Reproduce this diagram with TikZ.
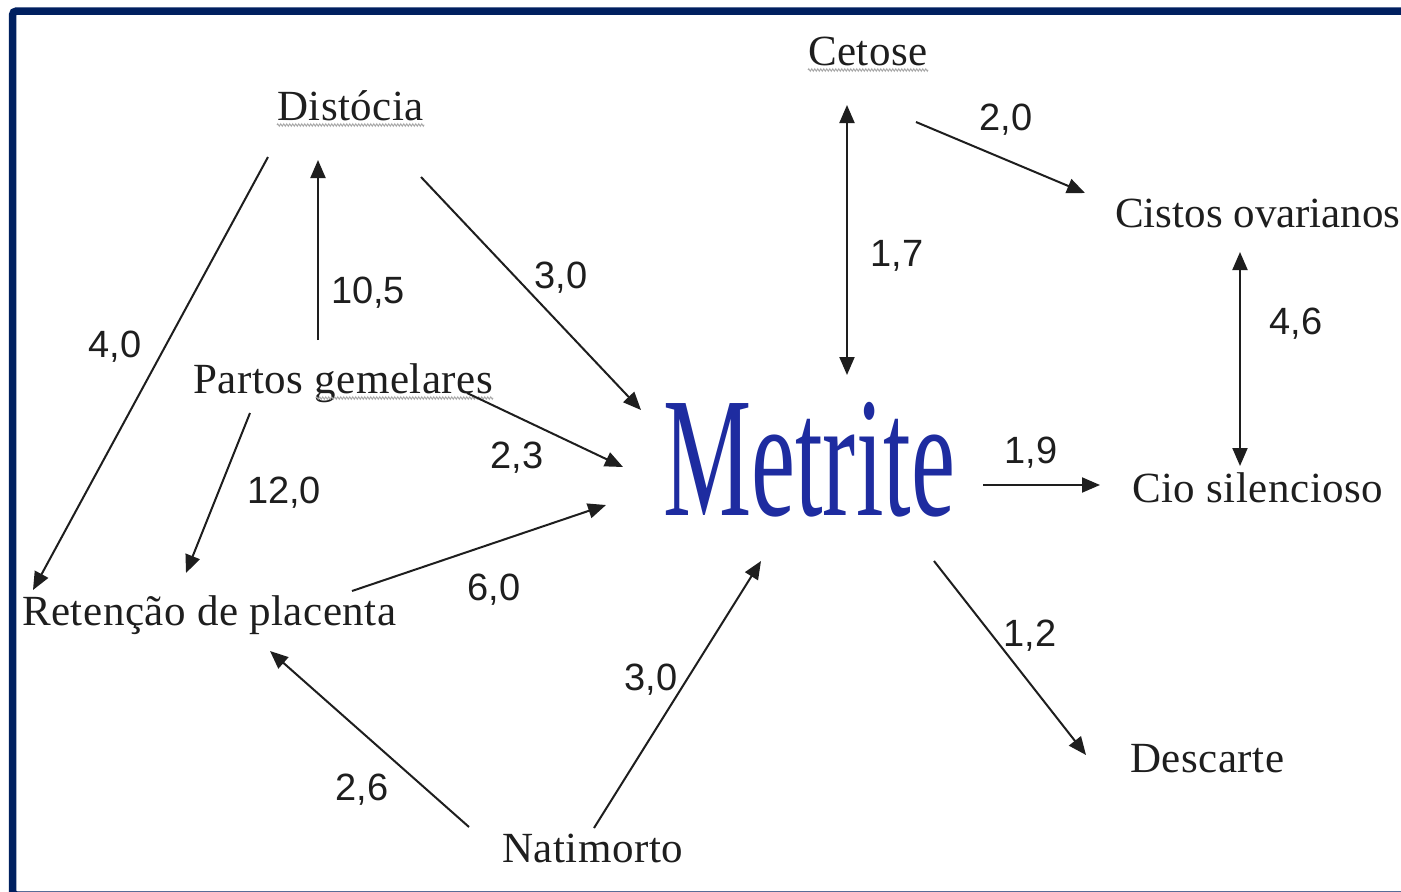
\documentclass[tikz,border=0pt]{standalone}
\usepackage{fontspec}
\setmainfont{Liberation Serif}
\newfontfamily\numfont{Liberation Sans}
\newfontfamily\lblfont[LetterSpace=1.2]{Liberation Serif}
\usetikzlibrary{arrows.meta,decorations.pathmorphing}
\definecolor{framecol}{RGB}{0,32,96}
\definecolor{metcol}{RGB}{30,44,160}
\definecolor{inkcol}{RGB}{30,30,30}
\begin{document}
\begin{tikzpicture}[x=1pt,y=-1pt,
  lbl/.style={font=\lblfont\fontsize{43}{43}\selectfont, text=inkcol, inner sep=0pt, anchor=base west},
  num/.style={font=\numfont\fontsize{38}{38}\selectfont, text=inkcol, inner sep=0pt, anchor=base},
  arr/.style={draw=inkcol, line width=2pt, -{Triangle[length=18pt,width=15pt]}},
  darr/.style={draw=inkcol, line width=2pt, {Triangle[length=18pt,width=15pt]}-{Triangle[length=18pt,width=15pt]}},
  squig/.style={draw=gray!70, line width=0.9pt, decorate, decoration={zigzag,segment length=3pt,amplitude=1.2pt}}]
\useasboundingbox (0,0) rectangle (1401,892);
\begin{scope}
\clip (0,0) rectangle (1401,892);
\fill[white] (0,0) rectangle (1401,892);
\draw[framecol, line width=7.5pt, rounded corners=4pt] (12.5,11) rectangle (1440,895);

% main nodes
\node[lbl] (dist) at (277,120) {Distócia};
\node[lbl] (cet)  at (808,65)  {Cetose};
\node[lbl, font=\fontsize{43}{43}\selectfont] (cis)  at (1115,227) {Cistos ovarianos};
\node[lbl] (cio)  at (1132,502) {Cio silencioso};
\node[lbl] (desc) at (1130,772) {Descarte};
\node[lbl] (nat)  at (502,862) {Natimorto};
\node[lbl] (ret)  at (22,625)  {Retenção de placenta};
\node[lbl] (par)  at (193,393) {Partos gemelares};
\node[anchor=base west, inner sep=0pt, text=metcol, font=\fontsize{171}{171}\selectfont] (met) at (663,515) {\scalebox{0.58}[1]{Metrite}};

% spell-check underlines
\draw[squig] ([shift={(0,5)}]dist.base west) -- ([shift={(0,5)}]dist.base east);
\draw[squig] ([shift={(0,5)}]cet.base west) -- ([shift={(0,5)}]cet.base east);
\draw[squig] ([shift={(123,5)}]par.base west) -- ([shift={(0,5)}]par.base east);

% connectors
\draw[arr] ([shift={(-9,37)}]dist.base west) -- ([shift={(11,-35)}]ret.base west);
\draw[arr] ([shift={(125,-53)}]par.base west) -- ([shift={(41,40)}]dist.base west);
\draw[arr] ([shift={(144,57)}]dist.base west) -- ([shift={(-22,-105)}]met.base west);
\draw[arr] ([shift={(274,0)}]par.base west) -- ([shift={(-40,-48)}]met.base west);
\draw[arr] ([shift={(57,20)}]par.base west) -- ([shift={(164,-52)}]ret.base west);
\draw[arr] ([shift={(330,-34)}]ret.base west) -- ([shift={(-57,-10)}]met.base west);
\draw[arr] ([shift={(-33,-35)}]nat.base west) -- ([shift={(248,26)}]ret.base west);
\draw[arr] ([shift={(92,-34)}]nat.base west) -- ([shift={(98,46)}]met.base west);
\draw[darr] ([shift={(39,40)}]cet.base west) -- ([shift={(184,-140)}]met.base west);
\draw[arr] ([shift={(108,57)}]cet.base west) -- ([shift={(-30,-34)}]cis.base west);
\draw[darr] ([shift={(125,25)}]cis.base west) -- ([shift={(108,-36)}]cio.base west);
\draw[arr] ([shift={(320,-30)}]met.base west) -- ([shift={(-32,-17)}]cio.base west);
\draw[arr] ([shift={(271,46)}]met.base west) -- ([shift={(-44,-17)}]desc.base west);

% number labels
\node[num] (n30a) at (561,288) {3,0};
\node[num] (n105) at (368,303) {10,5};
\node[num] (n40)  at (115,357) {4,0};
\node[num] (n23)  at (517,468) {2,3};
\node[num] (n120) at (284,503) {12,0};
\node[num] (n60)  at (494,600) {6,0};
\node[num] (n30b) at (651,690) {3,0};
\node[num] (n26)  at (362,800) {2,6};
\node[num] (n20)  at (1006,130) {2,0};
\node[num] (n17)  at (897,266) {1,7};
\node[num] (n46)  at (1296,334) {4,6};
\node[num] (n19)  at (1031,463) {1,9};
\node[num] (n12)  at (1030,646) {1,2};
\end{scope}
\end{tikzpicture}
\end{document}
